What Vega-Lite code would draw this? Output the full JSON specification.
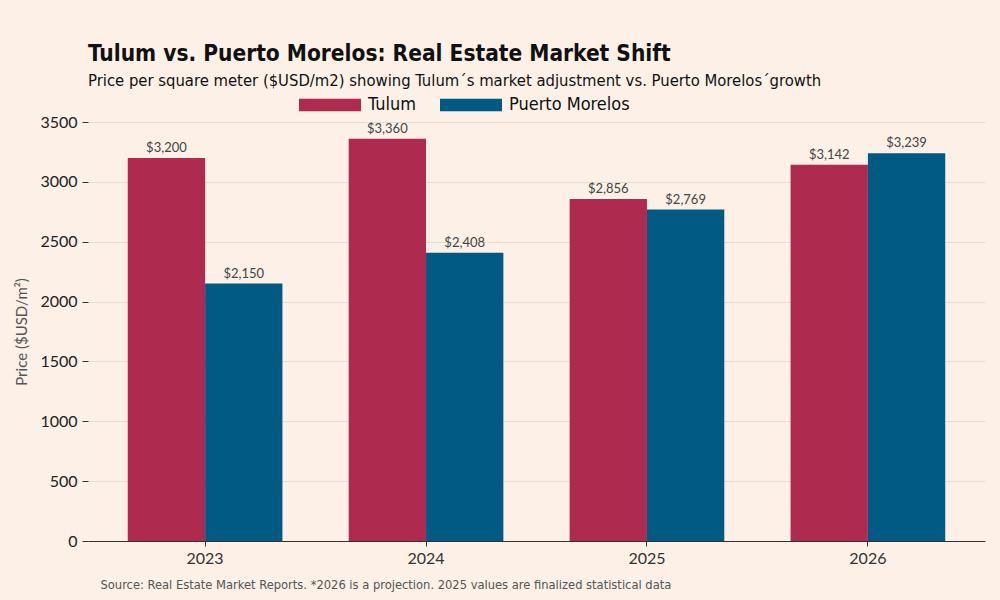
{
  "$schema": "https://vega.github.io/schema/vega-lite/v6.json",
  "autosize": "none",
  "width": 897,
  "height": 419,
  "padding": {"left": 88, "top": 122, "right": 15, "bottom": 59},
  "background": "#fdf0e6",
  "title": {
    "text": "Tulum vs. Puerto Morelos: Real Estate Market Shift",
    "subtitle": "Price per square meter ($USD/m2) showing Tulum´s market adjustment vs. Puerto Morelos´growth",
    "anchor": "start",
    "frame": "group",
    "font": "DejaVu Sans Condensed, sans-serif",
    "fontSize": 22.5,
    "fontWeight": "bold",
    "color": "#111111",
    "subtitleFont": "DejaVu Sans Condensed, sans-serif",
    "subtitleFontSize": 16.5,
    "subtitleColor": "#111111",
    "subtitlePadding": 7,
    "offset": -15
  },
  "data": {
    "values": [
      {"year": "2023", "market": "Tulum", "price": 3200},
      {"year": "2023", "market": "Puerto Morelos", "price": 2150},
      {"year": "2024", "market": "Tulum", "price": 3360},
      {"year": "2024", "market": "Puerto Morelos", "price": 2408},
      {"year": "2025", "market": "Tulum", "price": 2856},
      {"year": "2025", "market": "Puerto Morelos", "price": 2769},
      {"year": "2026", "market": "Tulum", "price": 3142},
      {"year": "2026", "market": "Puerto Morelos", "price": 3239}
    ]
  },
  "encoding": {
    "x": {
      "field": "year",
      "type": "nominal",
      "scale": {"paddingInner": 0.3, "paddingOuter": 0.18},
      "axis": {
        "labelAngle": 0,
        "labelFont": "Lato, sans-serif",
        "labelFontSize": 16,
        "labelColor": "#333333",
        "labelPadding": 4,
        "tickSize": 5,
        "tickColor": "#333333",
        "domainColor": "#333333",
        "title": "Source: Real Estate Market Reports. *2026 is a projection. 2025 values are finalized statistical data",
        "titleFont": "DejaVu Sans Condensed, sans-serif",
        "titleFontSize": 12.8,
        "titleFontWeight": "normal",
        "titleColor": "#555555",
        "titleAnchor": "start",
        "titleAlign": "left",
        "titleX": 12,
        "titlePadding": 12
      }
    },
    "xOffset": {
      "field": "market",
      "type": "nominal",
      "sort": ["Tulum", "Puerto Morelos"],
      "scale": {"paddingInner": 0, "paddingOuter": 0}
    },
    "y": {
      "field": "price",
      "type": "quantitative",
      "scale": {"domain": [0, 3500]},
      "axis": {
        "values": [0, 500, 1000, 1500, 2000, 2500, 3000, 3500],
        "format": "d",
        "title": "Price ($USD/m²)",
        "titleFont": "Lato, sans-serif",
        "titleFontSize": 15,
        "titleFontWeight": "normal",
        "titleColor": "#555555",
        "titlePadding": 10,
        "labelFont": "Lato, sans-serif",
        "labelFontSize": 16,
        "labelColor": "#222222",
        "labelPadding": 5,
        "tickSize": 6,
        "tickColor": "#333333",
        "domain": false,
        "gridColor": "#e6dcd2",
        "gridWidth": 1
      }
    }
  },
  "layer": [
    {
      "mark": {"type": "bar"},
      "encoding": {
        "color": {
          "field": "market",
          "type": "nominal",
          "sort": ["Tulum", "Puerto Morelos"],
          "scale": {"domain": ["Tulum", "Puerto Morelos"], "range": ["#ae2a4e", "#015a84"]},
          "legend": {
            "title": null,
            "orient": "none",
            "legendX": 211,
            "legendY": -48,
            "direction": "horizontal",
            "symbolType": "M-1,-0.2L1,-0.2L1,0.2L-1,0.2Z",
            "symbolSize": 3844,
            "symbolStrokeWidth": 0,
            "labelFont": "DejaVu Sans Condensed, sans-serif",
            "labelFontSize": 18,
            "labelColor": "#111111",
            "columnPadding": 24,
            "labelOffset": 7
          }
        }
      }
    },
    {
      "mark": {"type": "text", "dy": -10, "font": "Lato, sans-serif", "fontSize": 13, "color": "#444444"},
      "encoding": {
        "text": {"field": "price", "type": "quantitative", "format": "$,d"}
      }
    }
  ],
  "config": {
    "view": {"stroke": null}
  }
}
